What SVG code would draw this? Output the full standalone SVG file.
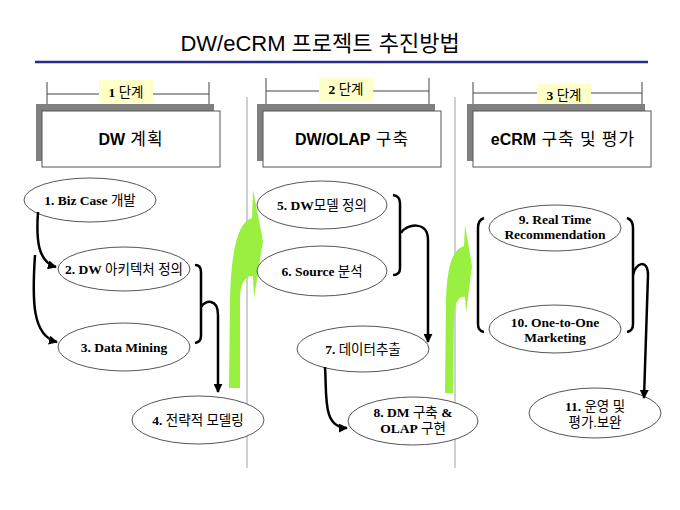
<svg xmlns="http://www.w3.org/2000/svg" width="680" height="510" viewBox="0 0 680 510">
<defs>
<marker id="ah" viewBox="0 0 10 10" refX="9" refY="5" markerWidth="9" markerHeight="9" markerUnits="userSpaceOnUse" orient="auto">
<path d="M0,0 L10,5 L0,10 Z" fill="#000"/>
</marker>
<style>
.title{font-family:"Liberation Sans","Noto Sans CJK KR",sans-serif;font-size:22px;fill:#000}
.lbl{font-family:"Liberation Serif","Noto Sans CJK KR",serif;font-size:13.5px;fill:#000}
.b{font-weight:bold}
.hd{font-family:"Liberation Serif","Noto Sans CJK KR",serif;font-size:17px;fill:#000;letter-spacing:1px}
.hdl{font-family:"Liberation Sans","Noto Sans CJK KR",sans-serif;font-weight:900;font-size:16px;letter-spacing:0}
.ell{fill:#fff;stroke:#555;stroke-width:1}
.shadow{fill:#808080}
.box{fill:#fff;stroke:#555;stroke-width:1}
.tick{stroke:#444;stroke-width:1;fill:none}
.tag{fill:#ffffc8}
.sep{stroke:#b0b0b0;stroke-width:1.2}
.con{fill:none;stroke:#000;stroke-width:2.5}
.br{fill:none;stroke:#000;stroke-width:2.5}
.green{fill:#99f040}
</style>
</defs>

<text class="title" x="320" y="51" text-anchor="middle">DW/eCRM 프로젝트 추진방법</text>
<line x1="35" y1="62" x2="648" y2="62" stroke="#2a2a8c" stroke-width="2.5"/>

<line class="sep" x1="247" y1="97" x2="247" y2="468"/>
<line class="sep" x1="455" y1="97" x2="455" y2="468"/>

<g id="stage1">
<line class="tick" x1="47" y1="82" x2="47" y2="109"/>
<line class="tick" x1="209" y1="82" x2="209" y2="109"/>
<line class="tick" x1="47" y1="94" x2="209" y2="94"/>
<rect class="tag" x="99" y="80" width="54" height="23"/>
<text class="lbl" x="126" y="97" text-anchor="middle"><tspan class="b">1</tspan> 단계</text>
<rect class="shadow" x="36" y="104" width="178" height="57"/>
<rect class="box" x="42" y="111" width="178" height="56"/>
<text class="hd" x="131" y="145" text-anchor="middle"><tspan class="hdl">DW</tspan> 계획</text>
</g>

<g id="stage2">
<line class="tick" x1="266" y1="78" x2="266" y2="107"/>
<line class="tick" x1="429" y1="78" x2="429" y2="107"/>
<line class="tick" x1="266" y1="91" x2="429" y2="91"/>
<rect class="tag" x="319" y="77" width="54" height="24"/>
<text class="lbl" x="346" y="94" text-anchor="middle"><tspan class="b">2</tspan> 단계</text>
<rect class="shadow" x="257" y="104" width="178" height="57"/>
<rect class="box" x="263" y="111" width="178" height="56"/>
<text class="hd" x="352" y="145" text-anchor="middle"><tspan class="hdl">DW/OLAP</tspan> 구축</text>
</g>

<g id="stage3">
<line class="tick" x1="473" y1="82" x2="473" y2="107"/>
<line class="tick" x1="642" y1="82" x2="642" y2="107"/>
<line class="tick" x1="473" y1="93" x2="642" y2="93"/>
<rect class="tag" x="537" y="84" width="54" height="22"/>
<text class="lbl" x="564" y="100" text-anchor="middle"><tspan class="b">3</tspan> 단계</text>
<rect class="shadow" x="467" y="104" width="178" height="57"/>
<rect class="box" x="473" y="111" width="178" height="56"/>
<text class="hd" x="563" y="145" text-anchor="middle"><tspan class="hdl">eCRM</tspan> 구축 및 평가</text>
</g>

<g id="green-arrows">
<path class="green" d="M229 388 L230 300 C231 250 238 222 252 218 L253 190 L263 241 L254 298 L253 276 C246 275 241 282 240 296 L240 388 Z"/>
<path class="green" d="M445 393 L446 300 C447 270 451 250 464 246 L465 225 L472 266 L466 313 L465 297 C460 296 455 300 454 316 L453 393 Z"/>
</g>

<g id="n1"><ellipse class="ell" cx="90" cy="200" rx="66" ry="22"/>
<text class="lbl" x="90" y="205" text-anchor="middle"><tspan class="b">1. Biz Case</tspan> 개발</text></g>
<g id="n2"><ellipse class="ell" cx="124" cy="269" rx="66" ry="22"/>
<text class="lbl" x="124" y="274" text-anchor="middle"><tspan class="b">2. DW</tspan> 아키텍처 정의</text></g>
<g id="n3"><ellipse class="ell" cx="124" cy="347" rx="66" ry="24"/>
<text class="lbl b" x="124" y="352" text-anchor="middle">3. Data Mining</text></g>
<g id="n4"><ellipse class="ell" cx="198" cy="420" rx="66" ry="24"/>
<text class="lbl" x="198" y="425" text-anchor="middle"><tspan class="b">4.</tspan> 전략적 모델링</text></g>

<g id="n5"><ellipse class="ell" cx="322" cy="205" rx="65" ry="24"/>
<text class="lbl" x="322" y="210" text-anchor="middle"><tspan class="b">5. DW</tspan>모델 정의</text></g>
<g id="n6"><ellipse class="ell" cx="322" cy="271" rx="65" ry="25"/>
<text class="lbl" x="322" y="276" text-anchor="middle"><tspan class="b">6. Source</tspan> 분석</text></g>
<g id="n7"><ellipse class="ell" cx="363" cy="349" rx="66" ry="23"/>
<text class="lbl" x="363" y="354" text-anchor="middle"><tspan class="b">7.</tspan> 데이터추출</text></g>
<g id="n8"><ellipse class="ell" cx="413" cy="421" rx="65" ry="24"/>
<text class="lbl" x="413" y="417" text-anchor="middle"><tspan class="b">8. DM</tspan> 구축 <tspan class="b">&amp;</tspan></text>
<text class="lbl" x="413" y="433" text-anchor="middle"><tspan class="b">OLAP</tspan> 구현</text></g>

<g id="n9"><ellipse class="ell" cx="555" cy="228" rx="66" ry="23"/>
<text class="lbl b" x="555" y="224" text-anchor="middle">9. Real Time</text>
<text class="lbl b" x="555" y="239" text-anchor="middle">Recommendation</text></g>
<g id="n10"><ellipse class="ell" cx="555" cy="329" rx="66" ry="24"/>
<text class="lbl b" x="555" y="327" text-anchor="middle">10. One-to-One</text>
<text class="lbl b" x="555" y="342" text-anchor="middle">Marketing</text></g>
<g id="n11"><ellipse class="ell" cx="595" cy="413" rx="66" ry="25"/>
<text class="lbl" x="595" y="411" text-anchor="middle"><tspan class="b">11.</tspan> 운영 및</text>
<text class="lbl" x="595" y="427" text-anchor="middle">평가.보완</text></g>

<g id="connectors">
<path class="con" d="M38 212 C36 240 38 262 56 267" marker-end="url(#ah)"/>
<path class="con" d="M35 255 C32 300 32 336 57 342" marker-end="url(#ah)"/>
<path class="br" d="M195 265 Q201 265 201 272 L201 336 Q201 342 195 343"/>
<path class="con" d="M201 307 C205 300 218 298 218 315 L218 392" marker-end="url(#ah)"/>
<path class="br" d="M393 195 Q400 196 400 203 L400 268 Q400 275 393 275"/>
<path class="con" d="M401 233 C406 224 428 220 428 240 L428 342" marker-end="url(#ah)"/>
<path class="con" d="M325 367 C327 395 322 428 347 428" marker-end="url(#ah)"/>
<path class="br" d="M484 218 Q478 220 478 228 L478 324 Q478 331 484 332"/>
<path class="br" d="M627 218 Q633 220 633 228 L633 324 Q633 331 627 332"/>
<path class="con" d="M633 275 C635 263 648 258 648 275 L644 398" marker-end="url(#ah)"/>
</g>
</svg>
